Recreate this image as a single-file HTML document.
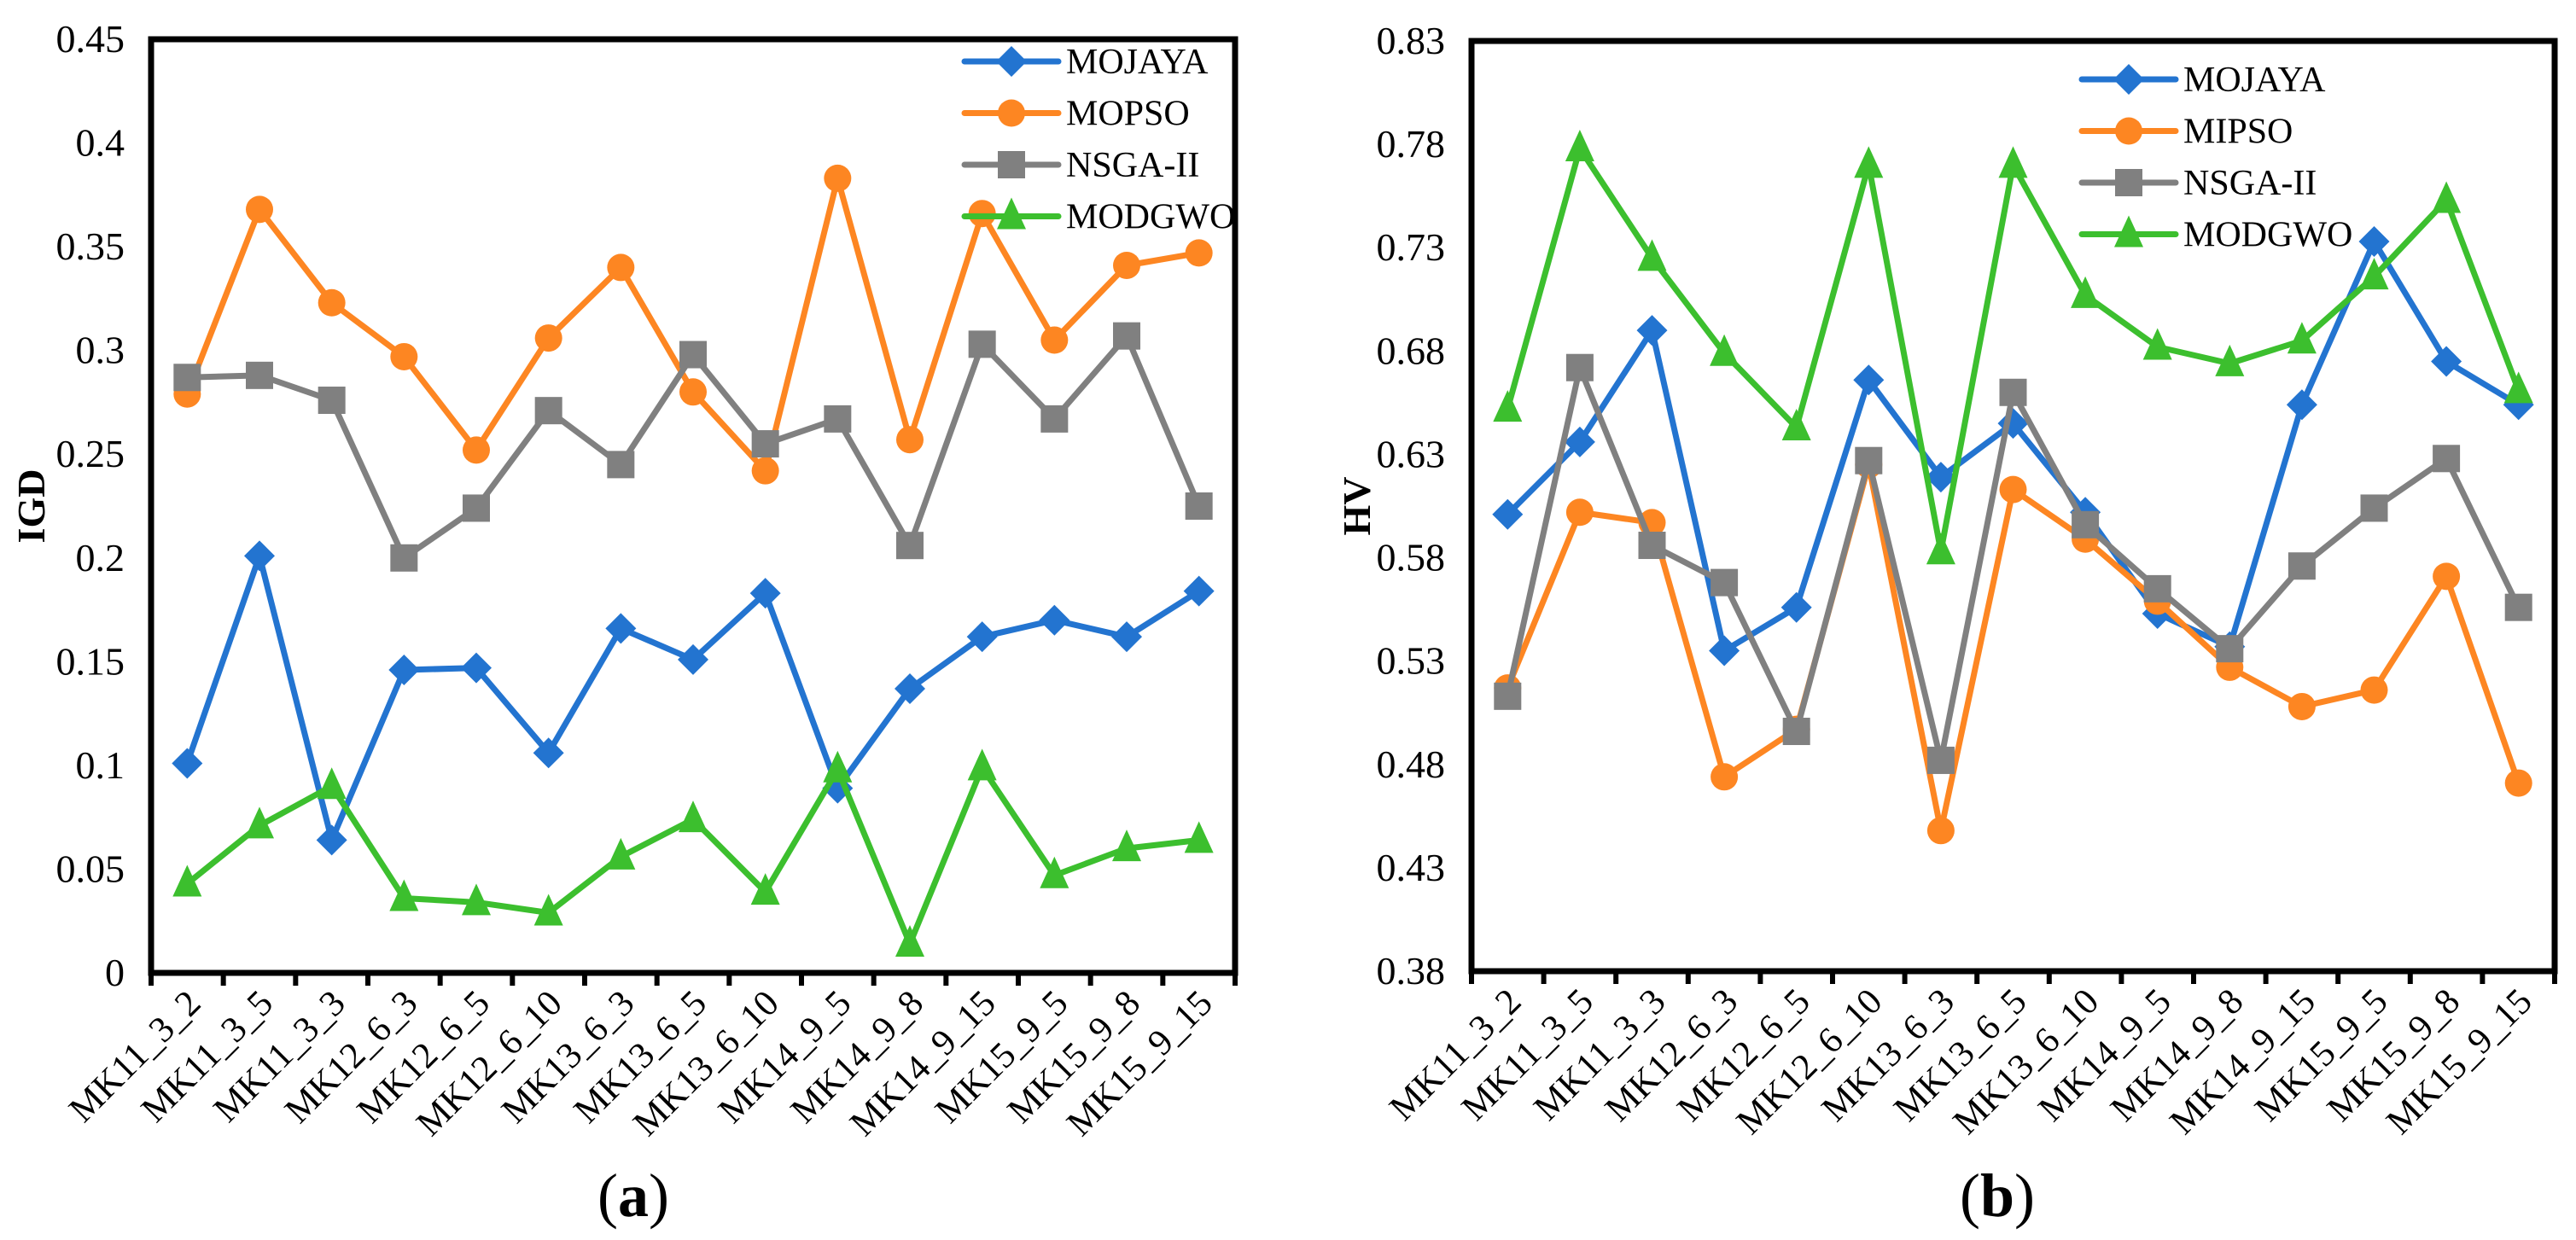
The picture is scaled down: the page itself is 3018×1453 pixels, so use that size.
<!DOCTYPE html>
<html><head><meta charset="utf-8"><style>
html,body{margin:0;padding:0;background:#fff}
svg{display:block;font-family:"Times New Roman","Liberation Serif",Times,serif}
svg text{font-family:"Times New Roman","Liberation Serif",Times,serif;fill:#000}
</style></head><body>
<svg id="fig" width="3018" height="1453" viewBox="0 0 3018 1453" xmlns="http://www.w3.org/2000/svg"></svg>
<script>
const categories=["MK11_3_2","MK11_3_5","MK11_3_3","MK12_6_3","MK12_6_5","MK12_6_10","MK13_6_3","MK13_6_5","MK13_6_10","MK14_9_5","MK14_9_8","MK14_9_15","MK15_9_5","MK15_9_8","MK15_9_15"];
const igdTicks=[0,0.05,0.1,0.15,0.2,0.25,0.3,0.35,0.4,0.45];
const igdTickLabels=["0","0.05","0.1","0.15","0.2","0.25","0.3","0.35","0.4","0.45"];
const igdMOJAYA=[0.101,0.201,0.064,0.146,0.147,0.106,0.166,0.151,0.183,0.089,0.137,0.162,0.170,0.162,0.184];
const igdMOPSO=[0.279,0.368,0.323,0.297,0.252,0.306,0.340,0.280,0.242,0.383,0.257,0.366,0.305,0.341,0.347];
const igdNSGA=[0.287,0.288,0.276,0.200,0.224,0.271,0.245,0.298,0.255,0.267,0.206,0.303,0.267,0.307,0.225];
const igdMODGWO=[0.043,0.071,0.090,0.036,0.034,0.029,0.056,0.074,0.039,0.098,0.014,0.099,0.047,0.060,0.064];
const hvTicks=[0.38,0.43,0.48,0.53,0.58,0.63,0.68,0.73,0.78,0.83];
const hvTickLabels=["0.38","0.43","0.48","0.53","0.58","0.63","0.68","0.73","0.78","0.83"];
const hvMOJAYA=[0.601,0.636,0.690,0.535,0.556,0.666,0.619,0.645,0.602,0.553,0.537,0.654,0.733,0.675,0.654];
const hvMIPSO=[0.517,0.602,0.597,0.474,0.497,0.625,0.448,0.613,0.589,0.559,0.527,0.508,0.516,0.571,0.471];
const hvNSGA=[0.513,0.672,0.586,0.568,0.496,0.627,0.482,0.660,0.596,0.565,0.536,0.576,0.604,0.628,0.556];
const hvMODGWO=[0.652,0.778,0.725,0.679,0.643,0.770,0.583,0.770,0.707,0.682,0.674,0.685,0.716,0.753,0.661];

const NS="http://www.w3.org/2000/svg";
const svg=document.getElementById('fig');
function mk(tag,attrs,parent){const e=document.createElementNS(NS,tag);for(const k in attrs)e.setAttribute(k,attrs[k]);if(tag==='text')e.style.fontFamily='"Times New Roman","Liberation Serif",serif';(parent||svg).appendChild(e);return e;}
const COL={blue:"#2374d0",orange:"#fd8622",gray:"#808080",green:"#3cbf2e"};

function marker(g,type,x,y,color){
  let m;
  if(type==='diamond') m=mk('polygon',{points:`${x},${y-18} ${x+18},${y} ${x},${y+18} ${x-18},${y}`,fill:color},g);
  else if(type==='circle') m=mk('circle',{cx:x,cy:y,r:16,fill:color},g);
  else if(type==='square') m=mk('rect',{x:x-16,y:y-16,width:32,height:32,fill:color},g);
  else m=mk('polygon',{points:`${x},${y-22} ${x+17},${y+15} ${x-17},${y+15}`,fill:color},g);
  return m;
}

function chart(cfg){
  const {x0,x1,y0,y1,ticks,tickLabels,vmin,vmax,series,title,titleX,panel,panelX,legendX,legendY,id}=cfg;
  const step=(x1-x0)/categories.length;
  const xs=i=>x0+(i+0.5)*step;
  const ys=v=>y1-(v-vmin)/(vmax-vmin)*(y1-y0);
  const g=mk('g',{});
  
  
  ticks.forEach((t,i)=>{
    const tx=mk('text',{x:x0-31,y:ys(t)+15,'text-anchor':'end','font-size':46},g);
    
    
    tx.textContent=tickLabels[i];
  });
  for(let i=0;i<=categories.length;i++){
    const tk=mk('line',{x1:x0+i*step,x2:x0+i*step,y1:y1,y2:y1+15,stroke:'#000','stroke-width':6},g);
    
    
  }
  categories.forEach((c,i)=>{
    const lx=xs(i)+18, ly=y1+38;
    const t=mk('text',{x:lx,y:ly,'text-anchor':'end','font-size':43,transform:`rotate(-45 ${lx} ${ly})`},g);
    
    
    t.textContent=c;
  });
  series.forEach(s=>{
    const sg=mk('g',{},g);
    
    
    const pts=s.values.map((v,i)=>xs(i)+','+ys(v)).join(' ');
    const pl=mk('polyline',{points:pts,fill:'none',stroke:s.color,'stroke-width':7,'stroke-linejoin':'round'},sg);
    
    
    s.values.forEach((v,i)=>{
      const m=marker(sg,s.marker,xs(i),ys(v),s.color);
      
      
    });
  });
  const fr=mk('rect',{x:x0,y:y0,width:x1-x0,height:y1-y0,fill:'none',stroke:'#000','stroke-width':7},g);
  
  
  const lg=mk('g',{},g);
  
  
  series.forEach((s,i)=>{
    const yy=legendY+i*60.5;
    const e=mk('g',{},lg);
    
    
    mk('line',{x1:legendX,x2:legendX+110,y1:yy,y2:yy,stroke:s.color,'stroke-width':7,'stroke-linecap':'round'},e);
    marker(e,s.marker,legendX+55,yy,s.color);
    const t=mk('text',{x:legendX+119,y:yy+14,'font-size':42},e);
    t.textContent=s.name;
  });
  const cy=(y0+y1)/2;
  const yt=mk('text',{x:titleX,y:cy,'text-anchor':'middle','font-size':46,'font-weight':'bold',transform:`rotate(-90 ${titleX} ${cy})`},g);
  
  
  yt.textContent=title;
  const pt=mk('text',{x:panelX,y:1425,'text-anchor':'middle','font-size':72},g);
  
  
  pt.innerHTML='(<tspan font-weight="bold">'+panel+'</tspan>)';
}

chart({id:'igd',x0:177,x1:1447,y0:46,y1:1140,ticks:igdTicks,tickLabels:igdTickLabels,vmin:0,vmax:0.45,
  series:[{name:'MOJAYA',values:igdMOJAYA,color:COL.blue,marker:'diamond'},
          {name:'MOPSO',values:igdMOPSO,color:COL.orange,marker:'circle'},
          {name:'NSGA-II',values:igdNSGA,color:COL.gray,marker:'square'},
          {name:'MODGWO',values:igdMODGWO,color:COL.green,marker:'triangle'}],
  title:'IGD',titleX:52,panel:'a',panelX:742,legendX:1130,legendY:72});
chart({id:'hv',x0:1724,x1:2993,y0:48,y1:1138,ticks:hvTicks,tickLabels:hvTickLabels,vmin:0.38,vmax:0.83,
  series:[{name:'MOJAYA',values:hvMOJAYA,color:COL.blue,marker:'diamond'},
          {name:'MIPSO',values:hvMIPSO,color:COL.orange,marker:'circle'},
          {name:'NSGA-II',values:hvNSGA,color:COL.gray,marker:'square'},
          {name:'MODGWO',values:hvMODGWO,color:COL.green,marker:'triangle'}],
  title:'HV',titleX:1605,panel:'b',panelX:2340,legendX:2439,legendY:93});
</script>
</body></html>
